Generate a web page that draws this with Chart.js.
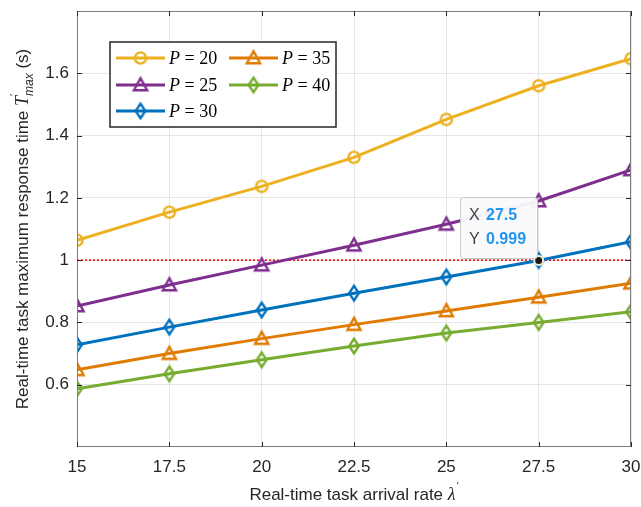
<!DOCTYPE html>
<html>
<head>
<meta charset="utf-8">
<script src="https://cdn.jsdelivr.net/npm/chart.js@4/dist/chart.umd.min.js"></script>
<style>
  html, body { margin: 0; padding: 0; background: #fff; }
  #wrap { width: 641px; height: 507px; }
</style>
</head>
<body>
<div id="wrap"><canvas id="myChart" width="641" height="507"></canvas></div>
<script>
// data
var arrivalRates = [15, 17.5, 20, 22.5, 25, 27.5, 30];
var p20 = [1.064, 1.154, 1.237, 1.330, 1.452, 1.560, 1.647];
var p25 = [0.853, 0.920, 0.984, 1.048, 1.115, 1.190, 1.290];
var p30 = [0.728, 0.785, 0.840, 0.894, 0.946, 0.999, 1.059];
var p35 = [0.648, 0.700, 0.748, 0.793, 0.837, 0.881, 0.926];
var p40 = [0.587, 0.635, 0.680, 0.724, 0.766, 0.800, 0.834];
var seriesNames = ['20', '25', '30', '35', '40'];
var yTickLabels = [0.6, 0.8, 1, 1.2, 1.4, 1.6];
var refValue = 1;
var tipX = 27.5, tipY = 0.999;

var colors = ['#EDB120', '#7E2F8E', '#0072BD', '#E07B00', '#77AC30'];
var markerKinds = ['circle', 'triangle', 'diamond', 'triangle', 'diamond'];
var SANS = "'Liberation Sans', Arial, sans-serif";
var SERIF = "'Liberation Serif', 'Times New Roman', serif";

function makeMarker(kind, color) {
    var c = document.createElement('canvas');
    c.width = 20; c.height = 20;
    var g = c.getContext('2d');
    g.strokeStyle = color;
    g.lineWidth = 2.4;
    g.lineJoin = 'miter';
    g.beginPath();
    if (kind === 'circle') {
        g.arc(10, 10, 5.6, 0, Math.PI * 2);
    } else if (kind === 'triangle') {
        g.moveTo(10, 3.2);
        g.lineTo(16.6, 15.2);
        g.lineTo(3.4, 15.2);
        g.closePath();
    } else {
        g.moveTo(10, 2.6);
        g.lineTo(14.8, 10);
        g.lineTo(10, 17.4);
        g.lineTo(5.2, 10);
        g.closePath();
    }
    g.stroke();
    return c;
}

var markers = markerKinds.map(function (k, i) { return makeMarker(k, colors[i]); });

function pts(arr) {
    return arrivalRates.map(function (x, i) { return { x: x, y: arr[i] }; });
}

var seriesData = [p20, p25, p30, p35, p40];
var datasets = seriesData.map(function (arr, i) {
    return {
        label: 'P = ' + seriesNames[i],
        data: pts(arr),
        borderColor: colors[i],
        borderWidth: 3,
        pointStyle: markers[i],
        pointRadius: 6,
        pointHoverRadius: 6,
        tension: 0
    };
});
datasets.push({
    label: 'ref',
    data: [{ x: arrivalRates[0], y: refValue }, { x: arrivalRates[arrivalRates.length - 1], y: refValue }],
    borderColor: '#FF0000',
    borderWidth: 1.5,
    borderDash: [2, 2],
    pointRadius: 0
});

var decorPlugin = {
    id: 'decor',
    afterDatasetsDraw: function (chart) {
        var c = chart.ctx, a = chart.chartArea;
        var xs = chart.scales.x, ys = chart.scales.y;
        c.save();
        // box and inward ticks
        c.strokeStyle = '#7d7d7d';
        c.lineWidth = 1;
        c.strokeRect(a.left + 0.5, a.top + 0.5, a.right - a.left - 1, a.bottom - a.top - 1);
        c.strokeStyle = '#262626';
        c.beginPath();
        arrivalRates.forEach(function (v) {
            var px = Math.round(xs.getPixelForValue(v)) + 0.5;
            c.moveTo(px, a.bottom); c.lineTo(px, a.bottom - 5);
            c.moveTo(px, a.top); c.lineTo(px, a.top + 5);
        });
        yTickLabels.forEach(function (v) {
            var py = Math.round(ys.getPixelForValue(v)) + 0.5;
            c.moveTo(a.left, py); c.lineTo(a.left + 5, py);
            c.moveTo(a.right, py); c.lineTo(a.right - 5, py);
        });
        c.stroke();

        // legend
        var bx = 110, by = 42, bw = 226, bh = 85;
        c.fillStyle = '#fff';
        c.fillRect(bx, by, bw, bh);
        c.strokeStyle = '#262626';
        c.lineWidth = 1.5;
        c.strokeRect(bx, by, bw, bh);
        var layout = [[0, 0], [0, 1], [0, 2], [1, 0], [1, 1]];
        var colX = [116, 229], rowY = [58, 85, 111];
        seriesNames.forEach(function (n, i) {
            var lx = colX[layout[i][0]], ly = rowY[layout[i][1]];
            c.strokeStyle = colors[i];
            c.lineWidth = 3;
            c.beginPath();
            c.moveTo(lx, ly); c.lineTo(lx + 49, ly);
            c.stroke();
            c.drawImage(markers[i], lx + 24.5 - 10, ly - 10);
            c.fillStyle = '#000';
            c.textBaseline = 'middle';
            c.textAlign = 'left';
            c.font = 'italic 18px ' + SERIF;
            c.fillText('P', lx + 53, ly + 1);
            var w = c.measureText('P').width;
            c.font = '18px ' + SERIF;
            c.fillText(' = ' + n, lx + 53 + w, ly + 1);
        });

        // data tip
        var tx = xs.getPixelForValue(tipX), ty = ys.getPixelForValue(tipY);
        c.beginPath();
        c.arc(tx, ty, 5.5, 0, Math.PI * 2);
        c.fillStyle = '#F3EFCF';
        c.fill();
        c.beginPath();
        c.arc(tx, ty, 3.5, 0, Math.PI * 2);
        c.fillStyle = '#1a1a1a';
        c.fill();
        var rx = 460, ry = 197, rw = 77, rh = 61;
        c.beginPath();
        c.roundRect(rx + 0.5, ry + 0.5, rw, rh, 3);
        c.fillStyle = 'rgba(250,250,252,0.95)';
        c.fill();
        c.strokeStyle = '#c9c9c9';
        c.lineWidth = 1;
        c.stroke();
        c.textBaseline = 'middle';
        c.font = '16px ' + SANS;
        c.fillStyle = '#404040';
        c.fillText('X', rx + 9, ry + 19);
        c.fillText('Y', rx + 9, ry + 43);
        c.font = 'bold 16px ' + SANS;
        c.fillStyle = '#1F96F2';
        c.fillText(String(tipX), rx + 26, ry + 19);
        c.fillText(String(tipY), rx + 26, ry + 43);

        // x axis title
        c.fillStyle = '#262626';
        c.textBaseline = 'alphabetic';
        var xt1 = 'Real-time task arrival rate ';
        c.font = '17px ' + SANS;
        var w1 = c.measureText(xt1).width;
        c.font = 'italic 18px ' + SERIF;
        var w2 = c.measureText('\u03bb').width;
        var total = w1 + w2 + 3;
        var sx = (a.left + a.right) / 2 - total / 2, base = 500;
        c.font = '17px ' + SANS;
        c.fillText(xt1, sx, base);
        c.font = 'italic 18px ' + SERIF;
        c.fillText('\u03bb', sx + w1, base);
        c.font = '11px ' + SERIF;
        c.fillText('\u2032', sx + w1 + w2 + 1, base - 11);

        // y axis title
        c.translate(28, (a.top + a.bottom) / 2);
        c.rotate(-Math.PI / 2);
        var yt1 = 'Real-time task maximum response time ';
        c.font = '17px ' + SANS;
        var v1 = c.measureText(yt1).width;
        c.font = 'italic 18px ' + SERIF;
        var v2 = c.measureText('T').width;
        c.font = 'italic 12px ' + SANS;
        var v3 = c.measureText('max').width;
        c.font = '17px ' + SANS;
        var v4 = c.measureText(' (s)').width;
        var tot = v1 + v2 + v3 + v4;
        var s = -tot / 2;
        c.font = '17px ' + SANS;
        c.fillText(yt1, s, 0);
        c.font = 'italic 18px ' + SERIF;
        c.fillText('T', s + v1, 0);
        c.font = '11px ' + SERIF;
        c.fillText('\u2032', s + v1 + v2, -11);
        c.font = 'italic 12px ' + SANS;
        c.fillText('max', s + v1 + v2, 5);
        c.font = '17px ' + SANS;
        c.fillText(' (s)', s + v1 + v2 + v3, 0);
        c.restore();
    }
};

var ctx = document.getElementById('myChart').getContext('2d');
var myChart = new Chart(ctx, {
    type: 'line',
    data: { datasets: datasets },
    options: {
        responsive: false,
        animation: false,
        layout: { padding: { left: 0, top: 11, right: 10, bottom: 0 } },
        plugins: {
            legend: { display: false },
            tooltip: { enabled: false }
        },
        scales: {
            x: {
                type: 'linear',
                min: 15,
                max: 30,
                afterFit: function (scale) {
                    scale.height = 60;
                    scale.paddingLeft = 0;
                    scale.paddingRight = 0;
                },
                ticks: {
                    stepSize: 2.5,
                    padding: 10,
                    color: '#262626',
                    font: { family: SANS, size: 17 },
                    maxRotation: 0,
                    callback: function (v) { return arrivalRates.indexOf(v) >= 0 ? String(v) : null; }
                },
                grid: { color: '#e6e6e6', drawTicks: false },
                border: { display: false }
            },
            y: {
                min: 0.4,
                max: 1.8,
                afterFit: function (scale) {
                    scale.width = 77;
                    scale.paddingTop = 0;
                    scale.paddingBottom = 0;
                },
                ticks: {
                    stepSize: 0.2,
                    padding: 8,
                    color: '#262626',
                    font: { family: SANS, size: 17 },
                    callback: function (v) {
                        var r = Math.round(v * 10) / 10;
                        return yTickLabels.indexOf(r) >= 0 ? String(r) : null;
                    }
                },
                grid: { color: '#e6e6e6', drawTicks: false },
                border: { display: false }
            }
        }
    },
    plugins: [decorPlugin]
});
</script>
</body>
</html>
